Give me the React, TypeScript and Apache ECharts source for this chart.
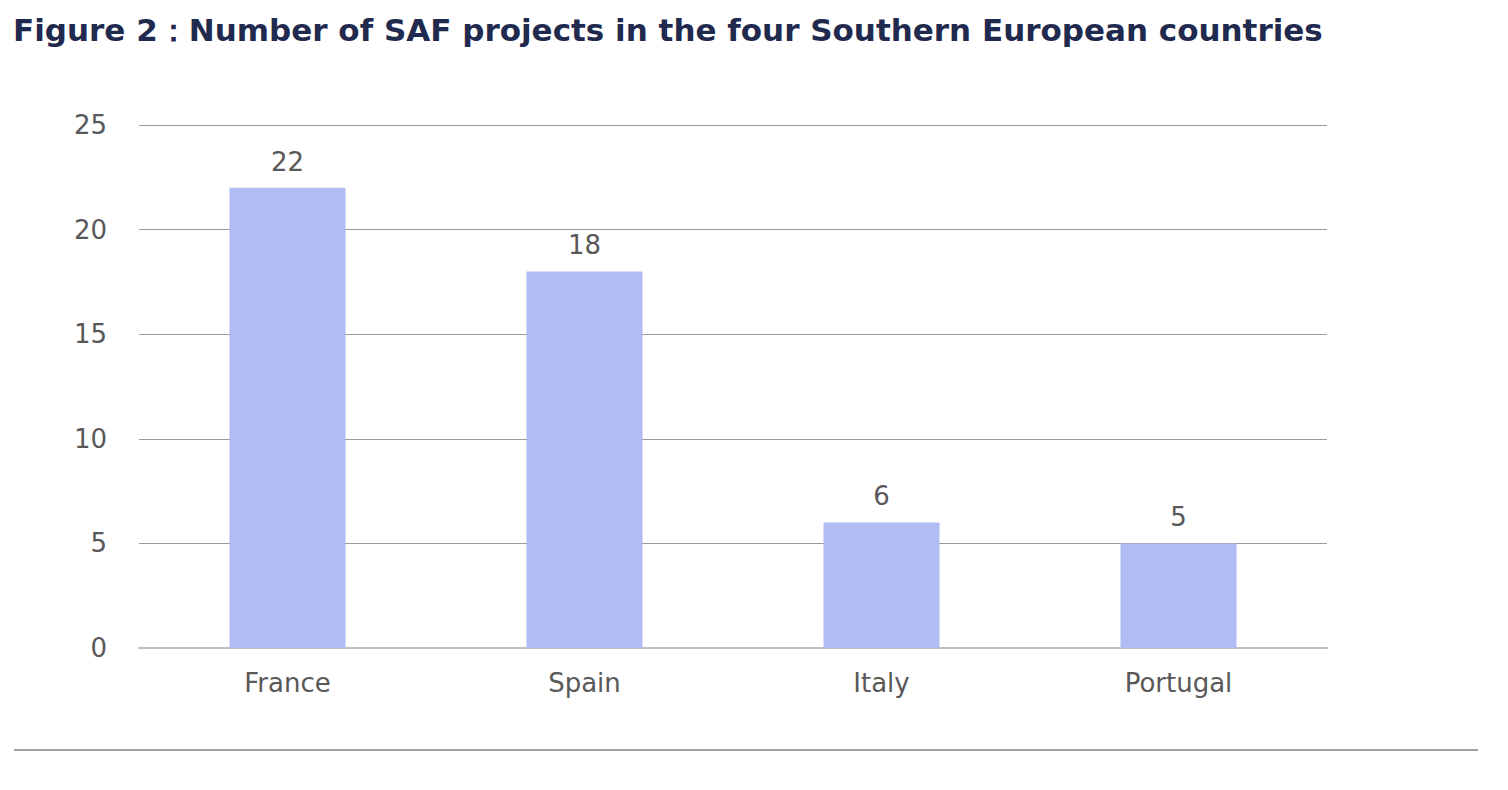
import React, { useEffect, useRef } from "react";
import * as echarts from "echarts";

const countries = ["France", "Spain", "Italy", "Portugal"];
const projectCounts = [22, 18, 6, 5];
const titleText = "Figure 2：Number of SAF projects in the four Southern European countries";

const baseFont = "'DejaVu Sans', 'Liberation Sans', sans-serif";

export default function App() {
  const ref = useRef<HTMLDivElement>(null);

  useEffect(() => {
    if (!ref.current) return;
    const chart = echarts.init(ref.current, null, { renderer: "svg" });
    chart.setOption({
      animation: false,
      backgroundColor: "#ffffff",
      textStyle: { fontFamily: baseFont },
      title: {
        text: titleText,
        left: 8,
        top: 9,
        textStyle: {
          fontSize: 31,
          fontWeight: "bold",
          color: "#1f2a4e",
          fontFamily: baseFont,
        },
      },
      grid: { left: 139, right: 181, top: 125, bottom: 142, containLabel: false },
      xAxis: {
        type: "category",
        data: countries,
        axisLine: { show: true, lineStyle: { color: "#bfbfbf", width: 2 } },
        axisTick: { show: false },
        axisLabel: { color: "#595959", fontSize: 26, margin: 22 },
      },
      yAxis: {
        type: "value",
        min: 0,
        max: 25,
        interval: 5,
        axisLine: { show: false },
        axisTick: { show: false },
        axisLabel: { color: "#595959", fontSize: 26, margin: 32 },
        splitLine: { lineStyle: { color: "#9a9a9a", width: 1 } },
      },
      series: [
        {
          type: "bar",
          data: projectCounts,
          barWidth: 116,
          itemStyle: { color: "#b0bcf2" },
          label: {
            show: true,
            position: "top",
            distance: 13,
            color: "#595959",
            fontSize: 26,
          },
        },
      ],
      graphic: [
        {
          type: "line",
          shape: { x1: 14, y1: 750, x2: 1478, y2: 750 },
          style: { stroke: "#808080", lineWidth: 1.5 },
        },
      ],
    });
    return () => chart.dispose();
  }, []);

  return (
    <div
      ref={ref}
      style={{ position: "fixed", left: 0, top: 0, width: 1508, height: 790 }}
    />
  );
}
